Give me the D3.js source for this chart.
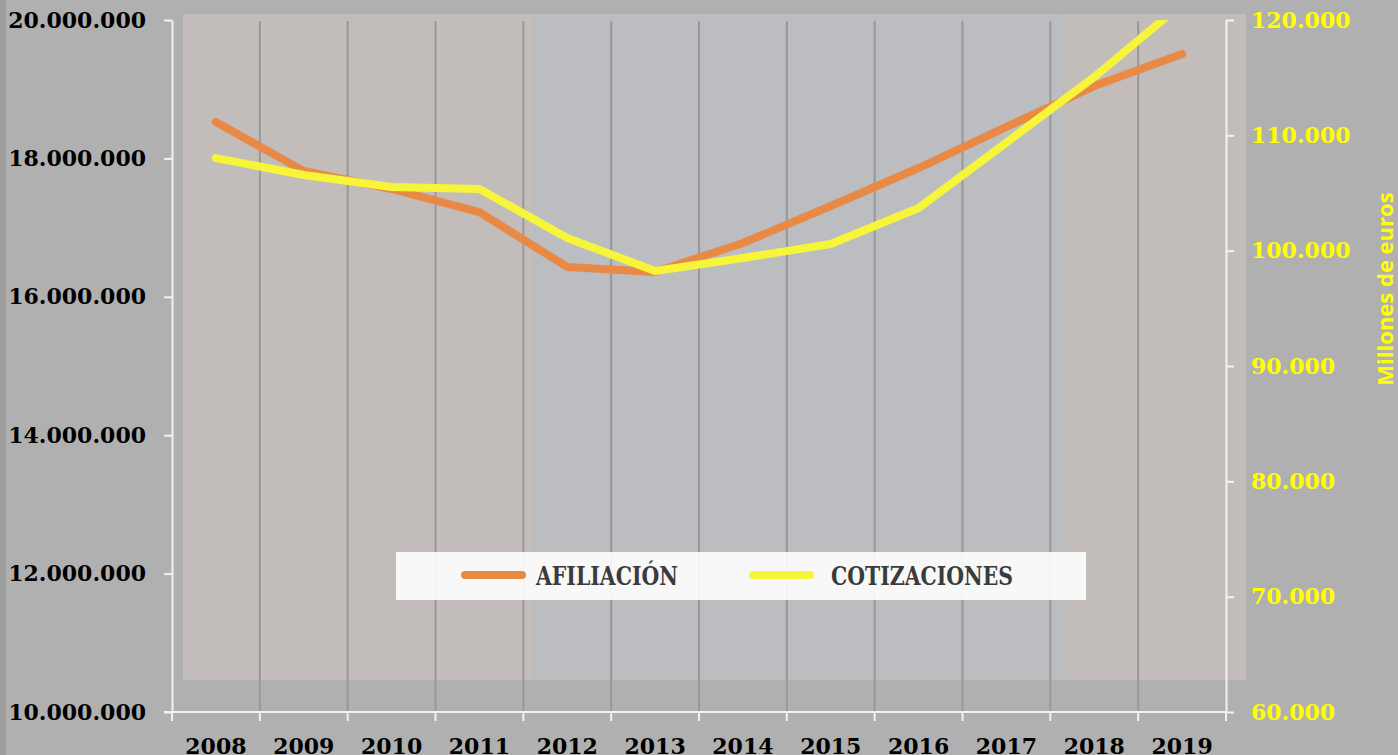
<!DOCTYPE html>
<html>
<head>
<meta charset="utf-8">
<script src="https://cdn.jsdelivr.net/npm/d3@7"></script>
<style>
  html, body { margin: 0; padding: 0; background: #b0b0b0; }
  svg { display: block; }
</style>
</head>
<body>
<div id="chart"></div>
<script>
// data
var years = ["2008","2009","2010","2011","2012","2013","2014","2015","2016","2017","2018","2019"];
var afiliacion = [18526000, 17818000, 17558000, 17225000, 16431000, 16358000, 16777000, 17312000, 17861000, 18454000, 19046000, 19509000];
var cotizaciones = [108030, 106560, 105520, 105350, 101100, 98240, 99360, 100580, 103700, 109380, 115060, 121400];
var leftTicks = [10000000, 12000000, 14000000, 16000000, 18000000, 20000000];
var rightTicks = [60000, 70000, 80000, 90000, 100000, 110000, 120000];
var seriesNames = ["AFILIACIÓN", "COTIZACIONES"];
var rightTitle = "Millones de euros";

var W = 1398, H = 755;
var margin = {top: 20, right: 172, bottom: 43, left: 172},
    x0 = margin.left, x1 = W - margin.right,
    y0 = H - margin.bottom, y1 = margin.top;

var serif = "'DejaVu Serif', serif";
var serifCond = "'DejaVu Serif Condensed', 'DejaVu Serif', serif";

var locale = d3.formatLocale({decimal: ",", thousands: ".", grouping: [3], currency: ["", "€"]});
var fmt = locale.format(",d");

var xScale = d3.scaleBand().domain(years).range([x0, x1]).paddingInner(0).paddingOuter(0);
var yLeft = d3.scaleLinear().domain([10000000, 20000000]).range([y0, y1]);
var yRight = d3.scaleLinear().domain([60000, 120000]).range([y0, y1]);
var bw = xScale.bandwidth();

var svg = d3.select("#chart").append("svg")
    .attr("width", W)
    .attr("height", H);

svg.append("rect").attr("width", W).attr("height", H).attr("fill", "#b0b0b0");

// cut-off strip on the far left
svg.append("rect").attr("x", 0).attr("y", 0).attr("width", 6).attr("height", H).attr("fill", "#9c9c9c");

// shaded background of the plot (periods)
var shadeTop = 14, shadeBottom = 680;
var shades = [
  {from: x0 + 11, to: xScale("2012") + 11, fill: "#c2bdba"},
  {from: xScale("2012") + 11, to: xScale("2018") + 13, fill: "#bcbdc1"},
  {from: xScale("2018") + 13, to: x1 + 20, fill: "#c2bdba"}
];
svg.selectAll("rect.shade").data(shades).enter().append("rect")
    .attr("class", "shade")
    .attr("x", function(d) { return d.from; })
    .attr("y", shadeTop)
    .attr("width", function(d) { return d.to - d.from; })
    .attr("height", shadeBottom - shadeTop)
    .attr("fill", function(d) { return d.fill; });

// vertical gridlines on band boundaries
svg.selectAll("line.grid").data(years.slice(1)).enter().append("line")
    .attr("class", "grid")
    .attr("x1", function(d) { return xScale(d); })
    .attr("x2", function(d) { return xScale(d); })
    .attr("y1", y1 + 1)
    .attr("y2", y0)
    .attr("stroke", "#989898")
    .attr("stroke-width", 2);

// axis-left
var gL = svg.append("g")
    .attr("transform", "translate(" + x0 + ",0)")
    .call(d3.axisLeft(yLeft).tickValues(leftTicks).tickSize(8).tickSizeOuter(0).tickPadding(18).tickFormat(fmt));

// axis-right
var gR = svg.append("g")
    .attr("transform", "translate(" + x1 + ",0)")
    .call(d3.axisRight(yRight).tickValues(rightTicks).tickSize(8).tickSizeOuter(0).tickPadding(17).tickFormat(fmt));

[gL, gR].forEach(function(g) {
  g.select(".domain").attr("stroke", "#f2f2f2").attr("stroke-width", 2);
  g.selectAll(".tick line").attr("stroke", "#f2f2f2").attr("stroke-width", 2);
  g.selectAll(".tick text")
      .style("font-family", serif)
      .style("font-weight", "bold")
      .style("font-size", "22px");
});
gL.selectAll(".tick text").attr("fill", "#000");
gR.selectAll(".tick text").attr("fill", "#ffff00");

// axis-x
var gX = svg.append("g").attr("transform", "translate(0," + y0 + ")");
gX.append("line")
    .attr("x1", x0 - 8).attr("x2", x1 + 1)
    .attr("stroke", "#f2f2f2").attr("stroke-width", 2);
gX.selectAll("line.xt").data(years.concat(["end"])).enter().append("line")
    .attr("class", "xt")
    .attr("x1", function(d) { return d === "end" ? x1 : xScale(d); })
    .attr("x2", function(d) { return d === "end" ? x1 : xScale(d); })
    .attr("y1", 0).attr("y2", 9)
    .attr("stroke", "#f2f2f2").attr("stroke-width", 2);
gX.selectAll("text").data(years).enter().append("text")
    .attr("x", function(d) { return xScale(d) + bw / 2; })
    .attr("y", 42)
    .attr("text-anchor", "middle")
    .style("font-family", serif)
    .style("font-weight", "bold")
    .style("font-size", "22px")
    .attr("fill", "#000")
    .text(function(d) { return d; });

// right axis title
svg.append("text")
    .attr("transform", "translate(1393,289) rotate(-90)")
    .attr("text-anchor", "middle")
    .style("font-family", "'Open Sans', sans-serif")
    .style("font-weight", "bold")
    .style("font-size", "22px")
    .attr("fill", "#ffff00")
    .text(rightTitle);

// clip to the plot area
svg.append("clipPath").attr("id", "plotclip")
  .append("rect").attr("x", x0).attr("y", y1).attr("width", x1 - x0).attr("height", y0 - y1);

var cx = function(d, i) { return xScale(years[i]) + bw / 2; };

var lineL = d3.line().x(cx).y(function(d) { return yLeft(d); });
var lineR = d3.line().x(cx).y(function(d) { return yRight(d); });

var lines = svg.append("g").attr("clip-path", "url(#plotclip)");
lines.append("path")
    .attr("d", lineL(afiliacion))
    .attr("fill", "none")
    .attr("stroke", "#e88a46")
    .attr("stroke-width", 8)
    .attr("stroke-linecap", "round")
    .attr("stroke-linejoin", "round");
lines.append("path")
    .attr("d", lineR(cotizaciones))
    .attr("fill", "none")
    .attr("stroke", "#f7f53a")
    .attr("stroke-width", 8)
    .attr("stroke-linecap", "round")
    .attr("stroke-linejoin", "round");

// legend
var lg = svg.append("g").attr("transform", "translate(396,552)");
lg.append("rect").attr("width", 690).attr("height", 48).attr("fill", "#ffffff").attr("fill-opacity", 0.89);
var legendItems = [
  {name: seriesNames[0], color: "#e88a46", lx: 69, tx: 140, tl: 142},
  {name: seriesNames[1], color: "#f7f53a", lx: 357, tx: 435, tl: 182}
];
var li = lg.selectAll("g.item").data(legendItems).enter().append("g").attr("class", "item");
li.append("line")
    .attr("x1", function(d) { return d.lx; })
    .attr("x2", function(d) { return d.lx + 57; })
    .attr("y1", 23).attr("y2", 23)
    .attr("stroke", function(d) { return d.color; })
    .attr("stroke-width", 8)
    .attr("stroke-linecap", "round");
li.append("text")
    .attr("x", function(d) { return d.tx; })
    .attr("y", 33)
    .attr("textLength", function(d) { return d.tl; })
    .attr("lengthAdjust", "spacingAndGlyphs")
    .style("font-family", serifCond)
    .style("font-weight", "bold")
    .style("font-size", "26px")
    .attr("fill", "#3a3b3d")
    .text(function(d) { return d.name; });
</script>
</body>
</html>
